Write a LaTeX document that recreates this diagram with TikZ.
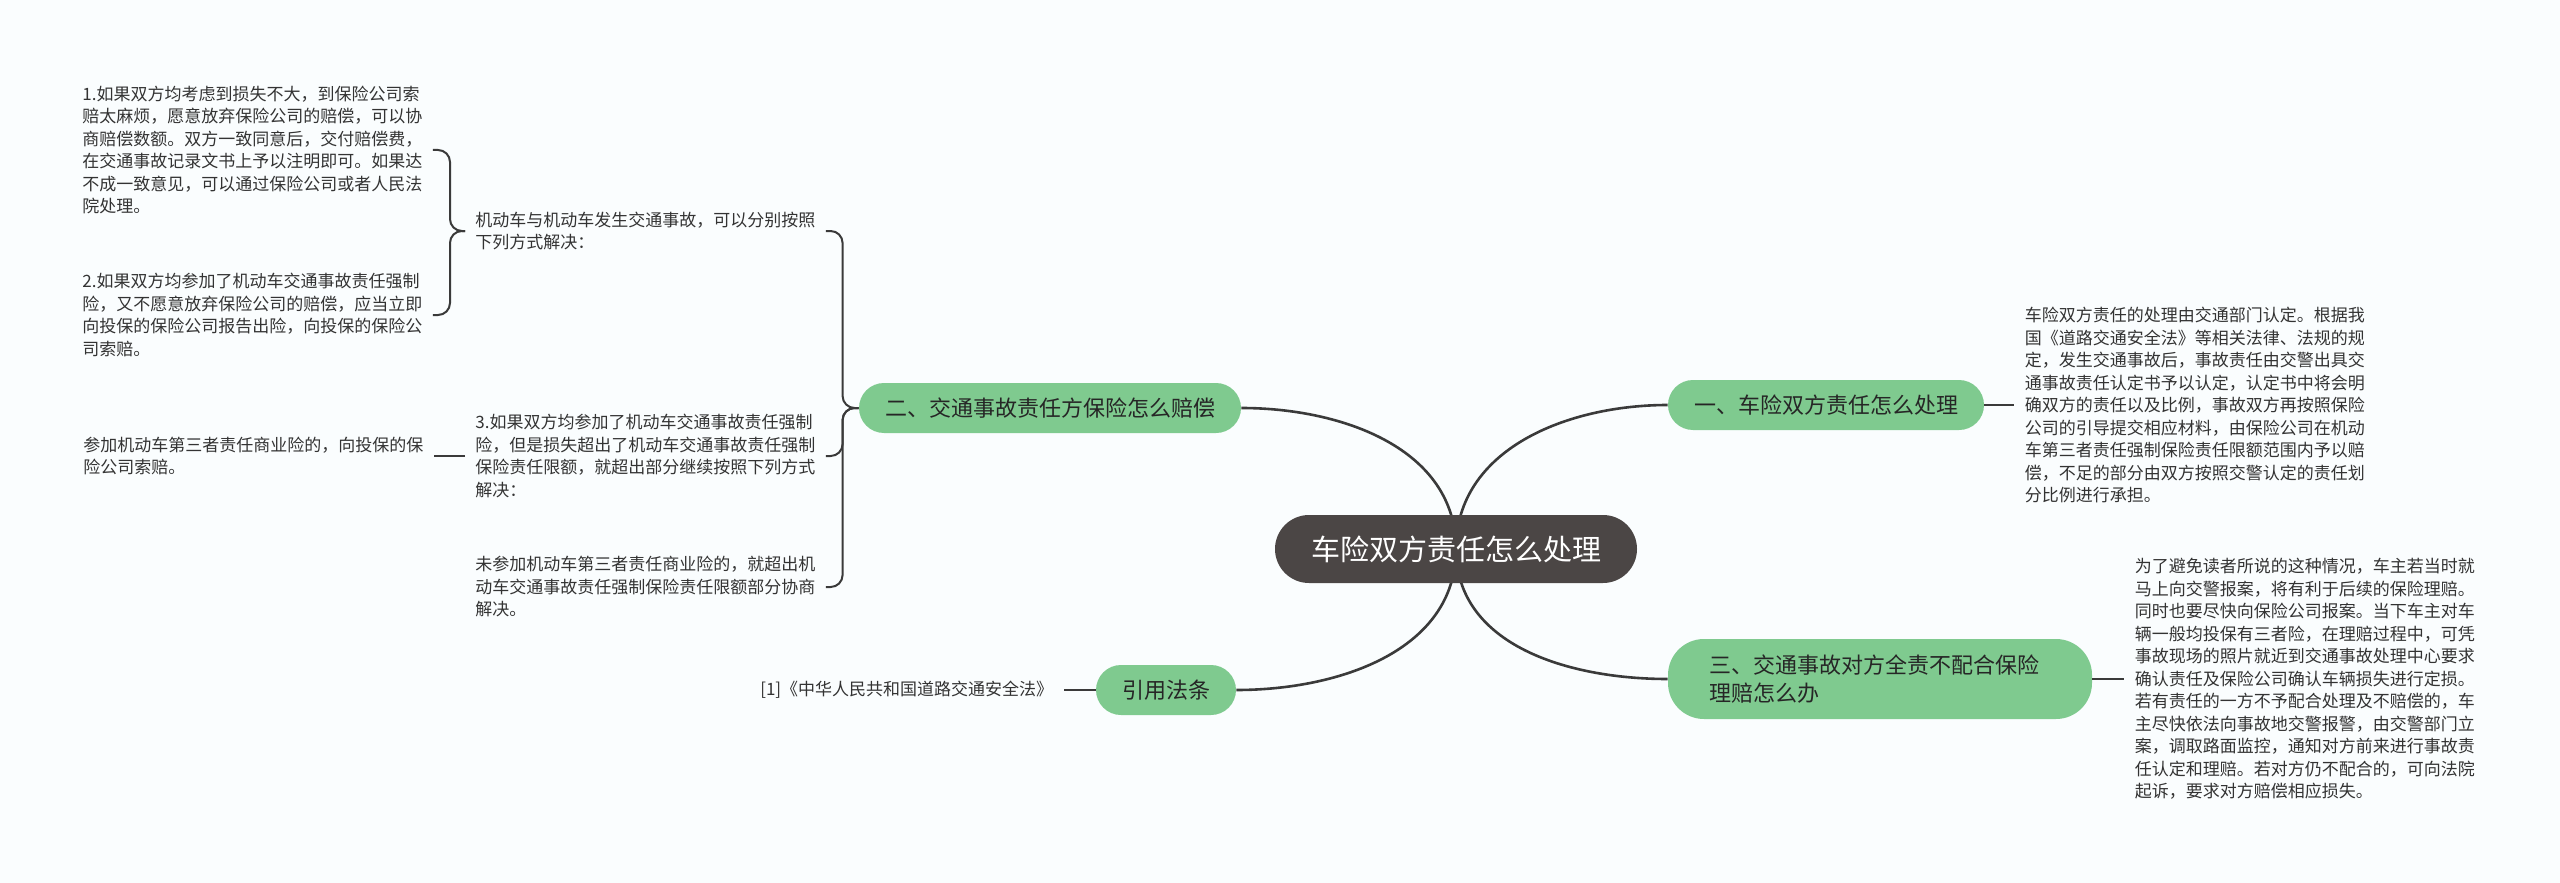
\documentclass[tikz,border=0pt]{standalone}
\usepackage{fontspec}
\setmainfont{Noto Sans CJK SC}
\usetikzlibrary{positioning}

\definecolor{paper}{HTML}{FAFDFE}
\definecolor{leafgreen}{HTML}{7FCA8F}
\definecolor{rootgrey}{HTML}{4B4645}
\definecolor{ink}{HTML}{333333}
\definecolor{wire}{HTML}{3A3A3A}

\newcommand\leaffont{\fontsize{8.5pt}{11.25pt}\selectfont}
\newcommand\branchfont{\fontsize{11pt}{14pt}\selectfont}
\newcommand\rootfont{\fontsize{14.5pt}{17pt}\selectfont}

\begin{document}
\begin{tikzpicture}[
    x=0.5pt, y=-0.5pt,
    node distance=15pt,
    main/.style={rectangle, fill=rootgrey, text=white, font=\rootfont, minimum width=181pt, minimum height=34pt, rounded corners=17pt},
    branch/.style={rectangle, fill=leafgreen, text=black!85, font=\branchfont, minimum height=25pt, inner xsep=13pt, rounded corners=12.5pt},
    leaf/.style={rectangle, inner sep=5pt, text=ink, font=\leaffont, align=left},
    link/.style={draw=wire, line width=1pt},
    trunk/.style={draw=wire, line width=1.3pt}
]

\fill[paper] (0,0) rectangle (2560,883);
\useasboundingbox (0,0) rectangle (2560,883);

\coordinate (rc) at (1456,549);

\node [branch] (one) at (1826,405) {一、车险双方责任怎么处理};
\node [branch] (two) at (1050,408) {二、交通事故责任方保险怎么赔偿};
\node [branch, align=left, text width=171pt, inner xsep=20.5pt, minimum height=40pt, rounded corners=18pt] (three) at (1880,679) {三、交通事故对方全责不配合保险\\理赔怎么办};
\node [branch] (law) at (1166,690) {引用法条};

\node [leaf, right=of one] (oneleaf) {车险双方责任的处理由交通部门认定。根据我\\国《道路交通安全法》等相关法律、法规的规\\定，发生交通事故后，事故责任由交警出具交\\通事故责任认定书予以认定，认定书中将会明\\确双方的责任以及比例，事故双方再按照保险\\公司的引导提交相应材料，由保险公司在机动\\车第三者责任强制保险责任限额范围内予以赔\\偿，不足的部分由双方按照交警认定的责任划\\分比例进行承担。};
\node [leaf, right=16pt of three] (threeleaf) {为了避免读者所说的这种情况，车主若当时就\\马上向交警报案，将有利于后续的保险理赔。\\同时也要尽快向保险公司报案。当下车主对车\\辆一般均投保有三者险，在理赔过程中，可凭\\事故现场的照片就近到交通事故处理中心要求\\确认责任及保险公司确认车辆损失进行定损。\\若有责任的一方不予配合处理及不赔偿的，车\\主尽快依法向事故地交警报警，由交警部门立\\案，调取路面监控，通知对方前来进行事故责\\任认定和理赔。若对方仍不配合的，可向法院\\起诉，要求对方赔偿相应损失。};
\node [leaf, left=16pt of law] (lawleaf) {[1]《中华人民共和国道路交通安全法》};

\node [leaf, anchor=west] (caseA) at (465,231) {机动车与机动车发生交通事故，可以分别按照\\下列方式解决：};
\node [leaf, anchor=west] (caseB) at (465,456) {3.如果双方均参加了机动车交通事故责任强制\\险，但是损失超出了机动车交通事故责任强制\\保险责任限额，就超出部分继续按照下列方式\\解决：};
\node [leaf, anchor=west] (caseC) at (465,587) {未参加机动车第三者责任商业险的，就超出机\\动车交通事故责任强制保险责任限额部分协商\\解决。};
\node [leaf, anchor=west] (wayA) at (72,150) {1.如果双方均考虑到损失不大，到保险公司索\\赔太麻烦，愿意放弃保险公司的赔偿，可以协\\商赔偿数额。双方一致同意后，交付赔偿费，\\在交通事故记录文书上予以注明即可。如果达\\不成一致意见，可以通过保险公司或者人民法\\院处理。};
\node [leaf, anchor=west] (wayB) at (72,315) {2.如果双方均参加了机动车交通事故责任强制\\险，又不愿意放弃保险公司的赔偿，应当立即\\向投保的保险公司报告出险，向投保的保险公\\司索赔。};
\node [leaf, anchor=west] (wayC) at (73,456) {参加机动车第三者责任商业险的，向投保的保\\险公司索赔。};

% curves from the centre
\draw [trunk] (rc) to[out=90,in=180] (one.west);
\draw [trunk] (rc) to[out=90,in=0] (two.east);
\draw [trunk] (rc) to[out=-90,in=180] (three.west);
\draw [trunk] (rc) to[out=-90,in=0] (law.east);

\node [main] (root) at (rc) {车险双方责任怎么处理};

\draw [link] (one.east) -- (oneleaf.west);
\draw [link] (three.east) -- (threeleaf.west);
\draw [link] (law.west) -- (lawleaf.east);

% brackets on the left
\draw [link, rounded corners=6pt] (two.west) -- ++(-16,0) |- (caseA.east);
\draw [link, rounded corners=6pt] (two.west) -- ++(-16,0) |- (caseB.east);
\draw [link, rounded corners=6pt] (two.west) -- ++(-16,0) |- (caseC.east);
\draw [link, rounded corners=6pt] (caseA.west) -- ++(-15,0) |- (wayA.east);
\draw [link, rounded corners=6pt] (caseA.west) -- ++(-15,0) |- (wayB.east);
\draw [link] (caseB.west) -- (wayC.east);

\end{tikzpicture}
\end{document}
